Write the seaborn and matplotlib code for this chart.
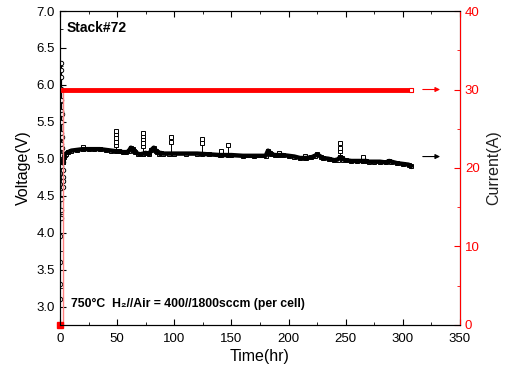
import seaborn as sns
import matplotlib.pyplot as plt
from matplotlib.ticker import MultipleLocator

# start-up sweep
start_time = [0.1, 0.2, 0.3, 0.4, 0.5, 0.55, 0.6, 0.65, 0.7, 0.75, 0.8, 0.85, 0.9, 0.95,
              1.0, 1.05, 1.1, 1.15, 1.2, 1.3, 1.4, 1.6, 1.8, 2.0, 2.2, 2.4, 2.6, 2.8, 3.0]
start_voltage = [3.1, 3.3, 3.6, 3.95, 4.2, 4.3, 4.45, 4.6, 4.75, 4.9, 5.05, 5.2, 5.35, 5.5,
                 5.65, 5.8, 5.95, 6.1, 6.3, 6.2, 5.6, 5.3, 5.15, 4.95, 4.75, 4.62, 4.7, 4.85, 4.95]

# long-term voltage trend
trend_time = [3.0, 3.5, 4.0, 5, 7, 10, 15, 20, 25, 30, 35, 40, 45, 50, 52, 55, 58, 60, 62,
              64, 65, 66, 68, 70, 73, 75, 78, 80, 82, 84, 85, 87, 88, 90, 95, 100, 110,
              120, 130, 140, 150, 160, 170, 180, 182, 184, 185, 188, 190, 195, 200, 205,
              210, 215, 220, 223, 225, 228, 230, 235, 240, 243, 245, 247, 248, 250, 255,
              260, 265, 268, 270, 275, 280, 285, 288, 290, 295, 300, 305, 307]
trend_voltage = [4.95, 5.02, 5.05, 5.07, 5.09, 5.11, 5.12, 5.13, 5.13, 5.13, 5.13, 5.12, 5.11,
                 5.10, 5.10, 5.09, 5.09, 5.10, 5.15, 5.13, 5.11, 5.09, 5.07, 5.06, 5.07, 5.08,
                 5.06, 5.12, 5.15, 5.11, 5.09, 5.07, 5.08, 5.07, 5.07, 5.07, 5.07, 5.07, 5.06,
                 5.05, 5.05, 5.04, 5.04, 5.04, 5.11, 5.08, 5.06, 5.05, 5.05, 5.05, 5.04, 5.03,
                 5.01, 5.01, 5.02, 5.04, 5.06, 5.03, 5.01, 5.00, 4.98, 4.99, 5.02, 5.01, 4.99,
                 4.98, 4.97, 4.97, 4.97, 4.97, 4.96, 4.96, 4.96, 4.95, 4.97, 4.96, 4.94, 4.93,
                 4.92, 4.90]

# isolated excursions above the trend
spike_time = [20, 49, 73, 97, 124, 141, 147, 192, 214, 245, 265]
spike_voltage = [[5.13, 5.16], [5.10, 5.18, 5.23, 5.28, 5.33, 5.38],
                 [5.07, 5.17, 5.22, 5.27, 5.31, 5.35], [5.07, 5.23, 5.30],
                 [5.07, 5.22, 5.27], [5.05, 5.10], [5.05, 5.18], [5.05, 5.08],
                 [5.01, 5.04], [5.02, 5.10, 5.15, 5.21], [4.97, 5.03]]

# applied current
cur_time = [2.5, 10, 50, 100, 150, 200, 250, 300, 307]
current = [30, 30, 30, 30, 30, 30, 30, 30, 30]
ramp_time = [0, 2.5, 2.5]
ramp_current = [0, 0, 30]

plt.rcParams['font.family'] = ['Liberation Sans', 'DejaVu Sans']
fig = plt.figure(figsize=(5.06, 3.73), dpi=100)
ax = fig.add_axes([0.1186, 0.1287, 0.7905, 0.8418])
ax2 = ax.twinx()

mk = dict(ls='none', marker='s', ms=3.5, mfc='white', mec='black', mew=0.7)

# start-up
sns.lineplot(x=start_time, y=start_voltage, sort=False, estimator=None, color='black', lw=0.8, ax=ax)
ax.plot(start_time, start_voltage, **dict(mk, marker='o', ms=3.2))

# spikes: thin lines with open squares
for t, vs in zip(spike_time, spike_voltage):
    ax.plot([t] * len(vs), vs, color='black', lw=0.7)
    ax.plot([t] * len(vs), vs, **mk)

# dense trend band
ax.plot(trend_time, trend_voltage, **mk)
sns.lineplot(x=trend_time, y=trend_voltage, sort=False, estimator=None, color='black', lw=3.2, ax=ax)

# current
sns.lineplot(x=ramp_time, y=ramp_current, sort=False, estimator=None, color='#ff8080', lw=1.0, ax=ax2)
sns.lineplot(x=cur_time, y=current, sort=False, estimator=None, color='red', lw=3.5, ax=ax2)
ax2.plot([cur_time[-1]], [current[-1]], ls='none', marker='s', ms=3.5, mfc='white', mec='red', mew=0.8)
ax2.plot([0], [0], ls='none', marker='s', ms=4, color='red', clip_on=False)

ax.set_xlim(0, 350)
ax.set_ylim(2.75, 7.0)
ax2.set_ylim(0, 40)

ax.xaxis.set_major_locator(MultipleLocator(50))
ax.xaxis.set_minor_locator(MultipleLocator(25))
ax.yaxis.set_minor_locator(MultipleLocator(0.25))
ax.set_yticks([3.0, 3.5, 4.0, 4.5, 5.0, 5.5, 6.0, 6.5, 7.0])
ax.set_yticklabels(['3.0', '3.5', '4.0', '4.5', '5.0', '5.5', '6.0', '6.5', '7.0'])
ax2.yaxis.set_major_locator(MultipleLocator(10))
ax2.yaxis.set_minor_locator(MultipleLocator(5))

ax.tick_params(which='both', direction='in', top=True, labelsize=9.5, color='black')
ax.tick_params(which='major', length=4)
ax.tick_params(which='minor', length=2.5)
ax.tick_params(axis='x', pad=6)
ax2.tick_params(which='both', direction='in', colors='red', labelsize=9.5)
ax2.tick_params(which='major', length=4)
ax2.tick_params(which='minor', length=2.5)
ax2.spines['right'].set_color('red')
for s in ['left', 'top', 'bottom']:
    ax2.spines[s].set_color('black')

ax.set_xlabel('Time(hr)', fontsize=11.5, labelpad=3)
ax.set_ylabel('Voltage(V)', fontsize=11.5)
ax2.set_ylabel('Current(A)', fontsize=11.5, color='#202020', labelpad=5)

ax.text(6, 6.72, 'Stack#72', fontsize=10, fontweight='bold')
ax.text(10, 3.0, '750°C  H\u2082//Air = 400//1800sccm (per cell)', fontsize=8.8, fontweight='bold')

ax.annotate('', xy=(335, 5.03), xytext=(315, 5.03),
            arrowprops=dict(arrowstyle='-|>', color='black', lw=0.8, mutation_scale=7))
ax2.annotate('', xy=(335, 30), xytext=(315, 30),
             arrowprops=dict(arrowstyle='-|>', color='red', lw=0.8, mutation_scale=7))

fig.savefig('out.png', dpi=100)
